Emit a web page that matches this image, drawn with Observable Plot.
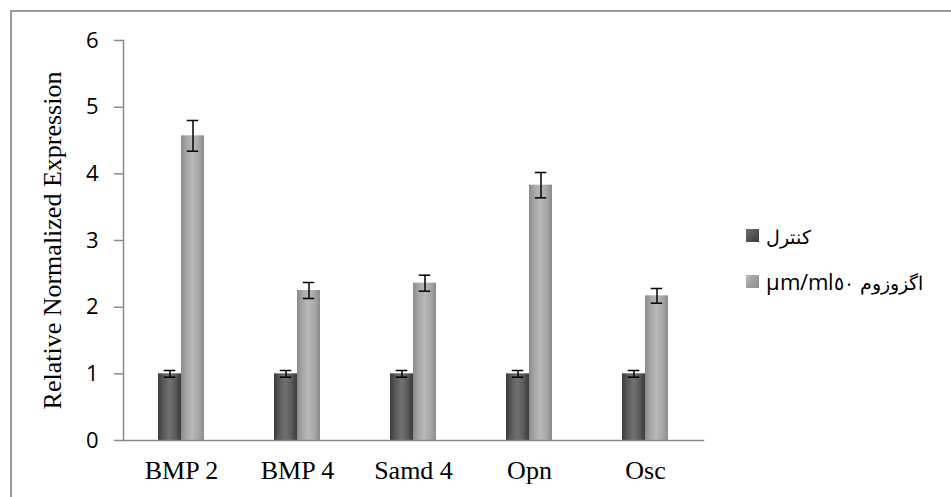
<!DOCTYPE html>
<html>
<head>
<meta charset="utf-8">
<script src="https://cdn.jsdelivr.net/npm/d3@7"></script>
<script src="https://cdn.jsdelivr.net/npm/@observablehq/plot@0.6"></script>
<style>
  @font-face { font-family: "LegendMix"; src: local("DejaVu Sans"); unicode-range: U+0600-06FF, U+200E; size-adjust: 88%; }
  @font-face { font-family: "LegendMix"; src: local("Open Sans"); unicode-range: U+0000-05FF; }
  html, body { margin: 0; padding: 0; background: #fff; overflow: hidden; }
  #wrap { position: relative; width: 951px; height: 497px; }
  #border { position: absolute; left: 10px; top: 10px; width: 2000px; height: 2000px;
            border: 2px solid #9a9a9a; pointer-events: none; }
  #legend { position: absolute; left: 746px; top: 212px; font-family: "LegendMix", "Open Sans", sans-serif;
            font-size: 22px; color: #000; }
  .row { display: flex; align-items: center; height: 46px; white-space: nowrap; }
  .sw { width: 13px; height: 13px; margin-right: 7px; flex: none; }
</style>
</head>
<body>
<div id="wrap"><div id="border"></div><div id="legend"></div></div>
<script>
const categories = ["BMP 2", "BMP 4", "Samd 4", "Opn", "Osc"];
const series = ["کنترل", "µm/ml٥٠\u200E اگزوزوم"];
const controlValues = [1.0, 1.0, 1.0, 1.0, 1.0];
const controlErr = [0.05, 0.05, 0.05, 0.05, 0.05];
const exosomeValues = [4.57, 2.25, 2.36, 3.83, 2.17];
const exosomeErr = [0.23, 0.12, 0.12, 0.19, 0.11];
const yTicks = [0, 1, 2, 3, 4, 5, 6];

const rows = categories.flatMap((c, i) => [
  {cat: c, series: series[0], value: controlValues[i], err: controlErr[i]},
  {cat: c, series: series[1], value: exosomeValues[i], err: exosomeErr[i]}
]);

const gradIds = ["gradCtrl", "gradExo"];
const gradStops = [
  ["#3a3a3a", "#5c5c5c", "#707070", "#5c5c5c", "#3a3a3a"],
  ["#8a8a8a", "#a8a8a8", "#b8b8b8", "#a8a8a8", "#8a8a8a"]
];

function defs() {
  const d = d3.create("svg:defs");
  gradIds.forEach((id, k) => {
    const g = d.append("linearGradient").attr("id", id).attr("x1", "0").attr("x2", "1").attr("y1", "0").attr("y2", "0");
    gradStops[k].forEach((c, j) => g.append("stop").attr("offset", j / (gradStops[k].length - 1)).attr("stop-color", c));
  });
  return d.node();
}

const axisGray = "#8a8a8a";

const chart = Plot.plot({
  width: 951,
  height: 497,
  marginLeft: 122,
  marginRight: 247,
  marginTop: 40,
  marginBottom: 57,
  style: {background: "transparent", overflow: "visible"},
  fx: {domain: categories, padding: 0},
  x: {domain: series, paddingInner: 0, paddingOuter: 1.48, axis: null},
  y: {domain: [0, 6]},
  color: {domain: series, range: gradIds.map(id => `url(#${id})`)},
  marks: [
    defs,
    Plot.barY(rows, {fx: "cat", x: "series", y: "value", fill: "series"}),
    Plot.ruleX(rows, {fx: "cat", x: "series", y1: d => d.value - d.err, y2: d => d.value + d.err, stroke: "black", strokeWidth: 1.5}),
    Plot.tickY(rows, {fx: "cat", x: "series", y: d => d.value + d.err, insetLeft: 5.75, insetRight: 5.75, stroke: "black", strokeWidth: 1.5}),
    Plot.tickY(rows, {fx: "cat", x: "series", y: d => d.value - d.err, insetLeft: 5.75, insetRight: 5.75, stroke: "black", strokeWidth: 1.5}),
    Plot.frame({anchor: "left", facet: "super", stroke: axisGray, strokeWidth: 1.5}),
    Plot.frame({anchor: "bottom", facet: "super", stroke: axisGray, strokeWidth: 1.5}),
    Plot.axisY({ticks: yTicks, tickFormat: d3.format("d"), tickSize: 9, tickPadding: 16, stroke: axisGray, strokeWidth: 1.5, fill: "black",
                fontFamily: "Open Sans", fontSize: 22, label: null}),
    Plot.axisY({ticks: [], tickSize: 0, label: "Relative Normalized Expression", labelAnchor: "center",
                labelArrow: "none", labelOffset: 81, fontFamily: "Liberation Serif", fontSize: 26, fill: "black"}),
    Plot.axisFx({anchor: "bottom", tickSize: 0, tickPadding: 20, fontFamily: "Liberation Serif", fontSize: 26,
                 fill: "black", label: null})
  ]
});
document.getElementById("wrap").prepend(chart);
chart.style.position = "absolute";
chart.style.left = "0";
chart.style.top = "0";

const legend = document.getElementById("legend");
series.forEach((s, k) => {
  const row = document.createElement("div");
  row.className = "row";
  const sw = document.createElement("div");
  sw.className = "sw";
  sw.style.background = `linear-gradient(135deg, ${gradStops[k][2]}, ${gradStops[k][0]})`;
  const t = document.createElement("span");
  t.textContent = s;
  t.dir = "ltr";
  row.append(sw, t);
  legend.append(row);
});
</script>
</body>
</html>
